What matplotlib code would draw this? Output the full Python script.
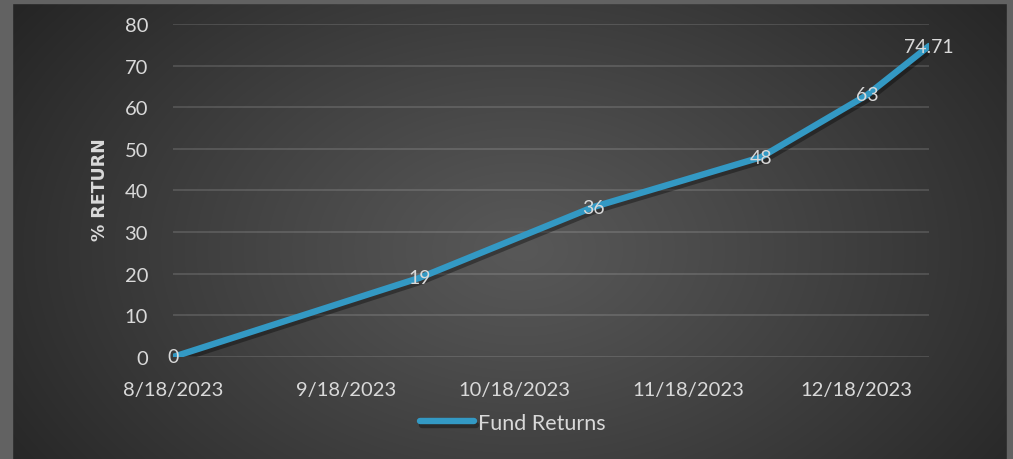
import numpy as np
import matplotlib
matplotlib.use("Agg")
import matplotlib.pyplot as plt
import matplotlib.patheffects as pe
from matplotlib.patches import Rectangle

# ----------------------------------------------------------------------
# Data
# ----------------------------------------------------------------------
dates = np.array(["2023-08-18", "2023-10-01", "2023-11-01",
                  "2023-12-01", "2023-12-20", "2023-12-31"], dtype="datetime64[D]")
returns = [0, 19, 36, 48, 63, 74.71]
tick_labels = ["8/18/2023", "9/18/2023", "10/18/2023", "11/18/2023", "12/18/2023"]
tick_dates = np.array(["2023-08-18", "2023-09-18", "2023-10-18",
                       "2023-11-18", "2023-12-18"], dtype="datetime64[D]")
series_name = "Fund Returns"

LINE_COLOR = "#3399c4"
TEXT_COLOR = "#d9d9d9"
FRAME_COLOR = "#626262"

plt.rcParams["font.family"] = ["Lato", "DejaVu Sans"]

W, H = 1013, 460
fig = plt.figure(figsize=(W / 100, H / 100), dpi=100)

# ----------------------------------------------------------------------
# Background: radial gradient + grey frame on left / top / right
# ----------------------------------------------------------------------
bg = fig.add_axes([0, 0, 1, 1], zorder=-2)
yy, xx = np.mgrid[0:H, 0:W]
cx, cy = 520, 250
d = np.sqrt(((xx - cx) / 620) ** 2 + ((yy - cy) / 420) ** 2)
d = np.clip(d, 0, 1)
c_in, c_out = 0x58 / 255, 0x25 / 255
val = c_in + (c_out - c_in) * d ** 1.1
bg.imshow(np.dstack([val, val, val]), extent=[0, 1, 0, 1], aspect="auto", origin="upper")
bg.axis("off")

fig.patches.append(Rectangle((0, 0), 12 / W, 1, transform=fig.transFigure,
                             color=FRAME_COLOR, zorder=-1))
fig.patches.append(Rectangle((0, 1 - 4 / H), 1, 4 / H, transform=fig.transFigure,
                             color=FRAME_COLOR, zorder=-1))
fig.patches.append(Rectangle((1 - 6 / W, 0), 6 / W, 1, transform=fig.transFigure,
                             color=FRAME_COLOR, zorder=-1))

# ----------------------------------------------------------------------
# Plot area
# ----------------------------------------------------------------------
ax = fig.add_axes([173 / W, 1 - 358 / H, 756 / W, 333 / H])
ax.patch.set_alpha(0)

ax.plot(dates, returns, color=LINE_COLOR, lw=4.6, solid_capstyle="round",
        solid_joinstyle="round", label=series_name, zorder=3,
        path_effects=[pe.SimpleLineShadow(offset=(1.5, -2.5), shadow_color="black", alpha=0.35),
                      pe.Normal()])

for dt, v in zip(dates, returns):
    ax.text(dt, v, f"{v:g}", ha="center", va="center", color=TEXT_COLOR,
            fontsize=14, zorder=4)

ax.set_xlim(dates[0], dates[-1])
ax.set_ylim(0, 80)
ax.set_yticks(range(0, 81, 10))
ax.set_xticks(tick_dates)
ax.set_xticklabels(tick_labels)
ax.yaxis.grid(True, color="#ffffff", alpha=0.13, lw=1.5)
ax.set_axisbelow(True)
for s in ax.spines.values():
    s.set_visible(False)
ax.tick_params(axis="both", length=0, colors=TEXT_COLOR, labelsize=14.5)
ax.tick_params(axis="x", pad=17)
ax.tick_params(axis="y", pad=18)

ax.set_ylabel("% RETURN", color=TEXT_COLOR, fontsize=12.5, fontweight="bold",
              family="DejaVu Sans")
ax.yaxis.set_label_coords((109 - 173) / 756, (358 - 190) / 333)

fig.legend(loc="center", bbox_to_anchor=(513 / W, 1 - 424 / H), frameon=False,
           fontsize=15.5, labelcolor=TEXT_COLOR, handlelength=2.5, handletextpad=0.2)

fig.savefig("out.png", dpi=100)
